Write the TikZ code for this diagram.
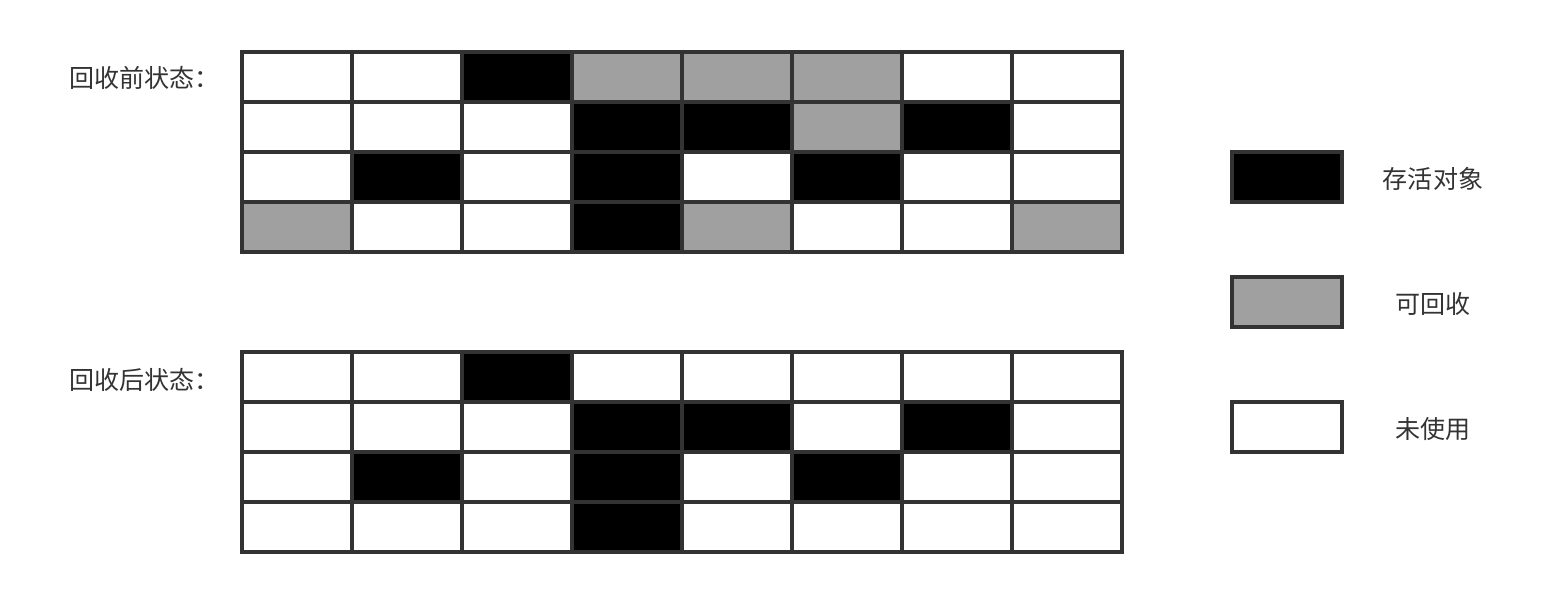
\documentclass[tikz,border=0pt]{standalone}
\usepackage{fontspec}
\newfontfamily\cjk{Noto Sans CJK SC}
\usetikzlibrary{positioning}
\definecolor{edgegray}{HTML}{333333}
\definecolor{deadgray}{HTML}{A0A0A0}

\begin{document}
\begin{tikzpicture}[
		x=0.025cm, y=-0.025cm,
		cell/.style={draw=edgegray, line width=0.1cm, minimum width=2.75cm,
			minimum height=1.25cm, inner sep=0pt, outer sep=0pt},
		s0/.style={fill=white}, s1/.style={fill=black}, s2/.style={fill=deadgray},
		txt/.style={text=edgegray, font=\cjk\fontsize{17.8}{20}\selectfont, inner sep=0pt}
		]
		\useasboundingbox (0,0) rectangle (1562,602);
		% before collection
		\node[txt, anchor=west] (pre) at (69,78) {回收前状态：};
		\foreach \row [count=\r] in {{0,0,1,2,2,2,0,0},{0,0,0,1,1,2,1,0},{0,1,0,1,0,1,0,0},{2,0,0,1,2,0,0,2}}
			\foreach \k [count=\c] in \row
				\node[cell, s\k] (pre-\r-\c) at (187+110*\c, 27+50*\r) {};
		% after collection
		\node[txt, anchor=west] (post) at (69,380) {回收后状态：};
		\foreach \row [count=\r] in {{0,0,1,0,0,0,0,0},{0,0,0,1,1,0,1,0},{0,1,0,1,0,1,0,0},{0,0,0,1,0,0,0,0}}
			\foreach \k [count=\c] in \row
				\node[cell, s\k] (post-\r-\c) at (187+110*\c, 327+50*\r) {};
		% legend
		\node[cell, s1] (live) at (1287,177) {};
		\node[cell, s2] (dead) at (1287,302) {};
		\node[cell, s0] (free) at (1287,427) {};
		\node[txt] (livetxt) at (1433,179) {存活对象};
		\node[txt] (deadtxt) at (1433,304) {可回收};
		\node[txt] (freetxt) at (1433,429) {未使用};
\end{tikzpicture}
\end{document}
